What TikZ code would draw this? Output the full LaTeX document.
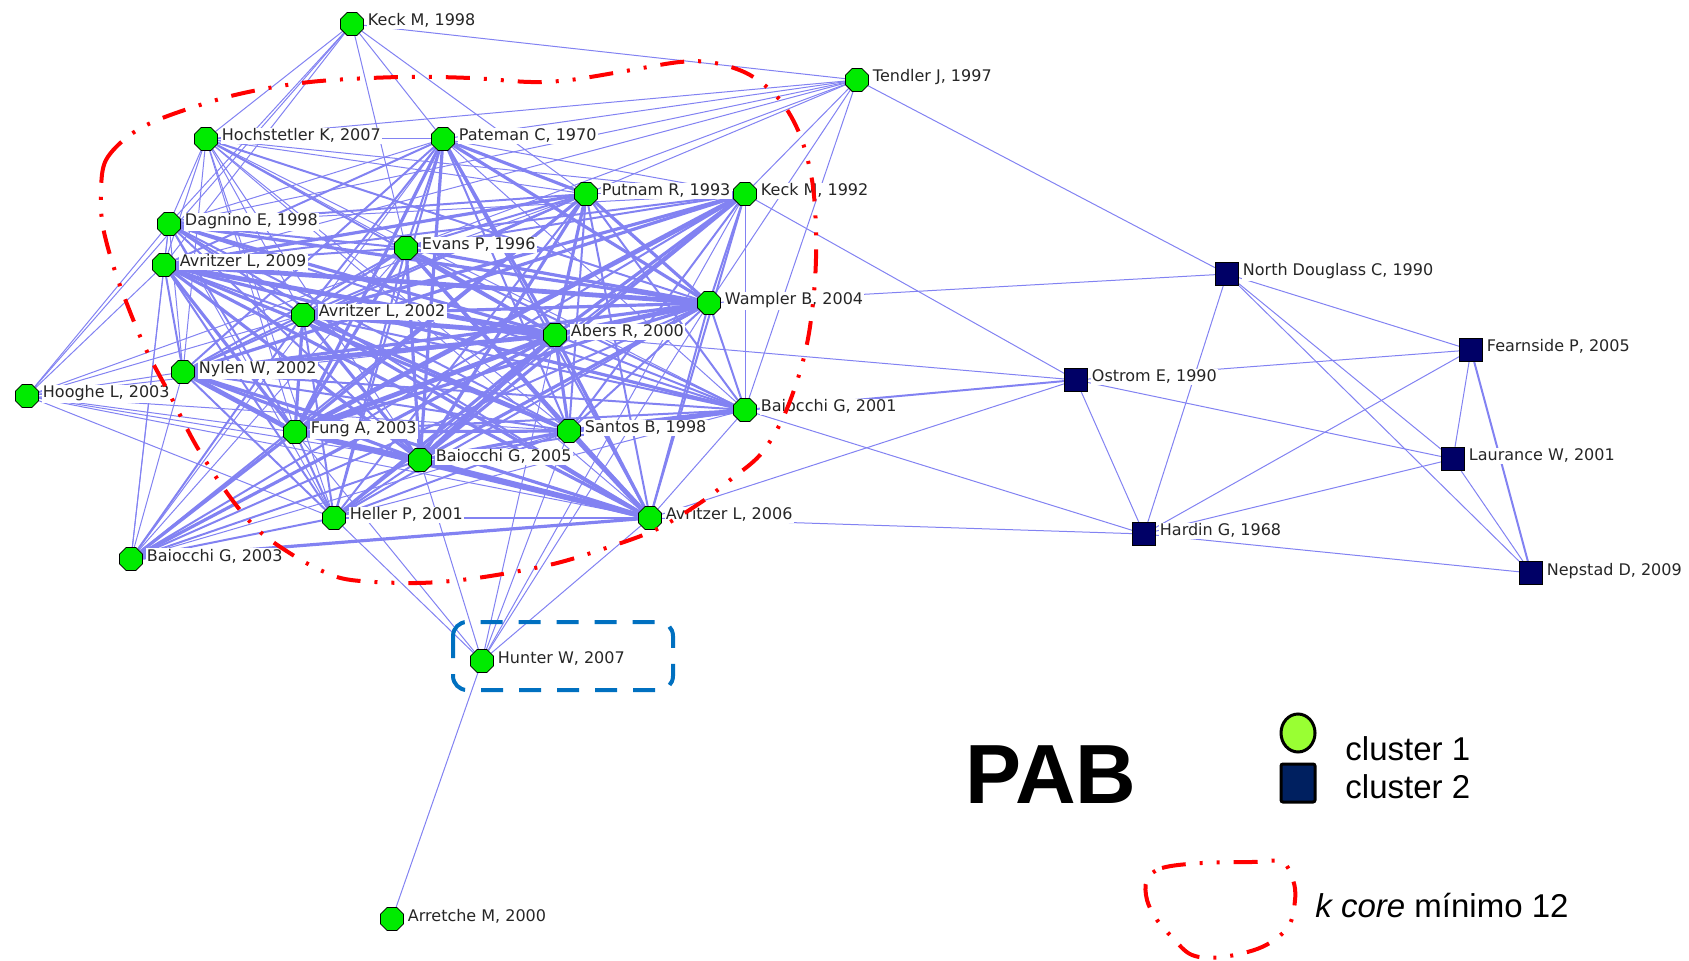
\documentclass[tikz,border=0pt]{standalone}
\usepackage{fontspec}
\usetikzlibrary{shapes.geometric, backgrounds}

\newfontfamily\lblfont{DejaVu Sans}
\newfontfamily\legfont{Liberation Sans}

\definecolor{linkcol}{RGB}{130,130,242}
\definecolor{nodegreen}{RGB}{0,235,0}
\definecolor{nodenavy}{RGB}{0,0,102}
\definecolor{legendgreen}{RGB}{153,255,51}
\definecolor{legendnavy}{RGB}{0,32,96}
\definecolor{boxblue}{RGB}{0,112,192}

\begin{document}
\begin{tikzpicture}[
    x=0.5pt, y=-0.5pt,
    clone/.style={draw=black, fill=nodegreen, regular polygon, regular polygon sides=8,
        inner sep=0pt, minimum size=12.5pt, line width=0.4pt},
    cltwo/.style={draw=black, fill=nodenavy, rectangle, inner sep=0pt,
        minimum size=11.5pt, line width=0.4pt},
    lbl/.style={font=\lblfont\fontsize{8}{9}\selectfont, text=black!85, fill=white,
        inner sep=0.6pt, anchor=base west, xshift=1.2pt, yshift=-1pt},
    legtxt/.style={font=\legfont\fontsize{16.5}{18}\selectfont, anchor=base west, inner sep=0pt},
    every edge/.style={draw=linkcol, line width=0.5pt},
    e2/.style={line width=1pt}, e3/.style={line width=1.6pt}, e4/.style={line width=2.4pt},
    kcore/.style={draw=red, line width=2pt,
        dash pattern=on 12pt off 7pt on 1.5pt off 7pt on 1.5pt off 7pt}
]
    \useasboundingbox (0,0) rectangle (1689,961);

    % cluster 1
    \node[clone, label={[lbl]right:{Keck M, 1998}}]        (keck98) at (352,24)  {};
    \node[clone, label={[lbl]right:{Tendler J, 1997}}]     (tend)   at (857,80)  {};
    \node[clone, label={[lbl]right:{Hochstetler K, 2007}}] (hoch)   at (206,139) {};
    \node[clone, label={[lbl]right:{Pateman C, 1970}}]     (pate)   at (443,139) {};
    \node[clone, label={[lbl]right:{Putnam R, 1993}}]      (putn)   at (586,194) {};
    \node[clone, label={[lbl]right:{Keck M, 1992}}]        (keck92) at (745,194) {};
    \node[clone, label={[lbl]right:{Dagnino E, 1998}}]     (dagn)   at (169,224) {};
    \node[clone, label={[lbl]right:{Evans P, 1996}}]       (evan)   at (406,248) {};
    \node[clone, label={[lbl]right:{Avritzer L, 2009}}]    (avr09)  at (164,265) {};
    \node[clone, label={[lbl]right:{Wampler B, 2004}}]     (wamp)   at (709,303) {};
    \node[clone, label={[lbl]right:{Avritzer L, 2002}}]    (avr02)  at (303,315) {};
    \node[clone, label={[lbl]right:{Abers R, 2000}}]       (aber)   at (555,335) {};
    \node[clone, label={[lbl]right:{Nylen W, 2002}}]       (nyle)   at (183,372) {};
    \node[clone, label={[lbl]right:{Hooghe L, 2003}}]      (hoog)   at (27,396)  {};
    \node[clone, label={[lbl]right:{Baiocchi G, 2001}}]    (baio01) at (745,410) {};
    \node[clone, label={[lbl]right:{Fung A, 2003}}]        (fung)   at (295,432) {};
    \node[clone, label={[lbl]right:{Santos B, 1998}}]      (sant)   at (569,431) {};
    \node[clone, label={[lbl]right:{Baiocchi G, 2005}}]    (baio05) at (420,460) {};
    \node[clone, label={[lbl]right:{Heller P, 2001}}]      (hell)   at (334,518) {};
    \node[clone, label={[lbl]right:{Avritzer L, 2006}}]    (avr06)  at (650,518) {};
    \node[clone, label={[lbl]right:{Baiocchi G, 2003}}]    (baio03) at (131,559) {};
    \node[clone, label={[lbl]right:{Hunter W, 2007}}]      (hunt)   at (482,661) {};
    \node[clone, label={[lbl]right:{Arretche M, 2000}}]    (arre)   at (392,919) {};

    % cluster 2
    \node[cltwo, label={[lbl]right:{North Douglass C, 1990}}] (doug) at (1227,274) {};
    \node[cltwo, label={[lbl]right:{Fearnside P, 2005}}]      (fear) at (1471,350) {};
    \node[cltwo, label={[lbl]right:{Ostrom E, 1990}}]         (ostr) at (1076,380) {};
    \node[cltwo, label={[lbl]right:{Laurance W, 2001}}]       (laur) at (1453,459) {};
    \node[cltwo, label={[lbl]right:{Hardin G, 1968}}]         (hard) at (1144,534) {};
    \node[cltwo, label={[lbl]right:{Nepstad D, 2009}}]        (neps) at (1531,573) {};

    \begin{scope}[on background layer]
    \path (keck98) edge (tend) edge (hoch) edge (dagn) edge (avr09) edge (hoog)
        edge (pate) edge (evan) edge (putn);
    \path (tend) edge (hoch) edge (pate) edge (dagn) edge (avr09) edge (evan)
        edge (putn) edge (keck92) edge (wamp) edge (baio01) edge (doug);
    \path (hoch) edge (pate) edge (putn) edge (dagn) edge (evan) edge (avr09)
        edge[e2] (wamp) edge (avr02) edge[e2] (aber) edge (nyle) edge (fung)
        edge (sant) edge (baio05) edge (hell) edge (keck92) edge (avr06) edge (baio01);
    \path (pate) edge[e3] (putn) edge (keck92) edge (dagn) edge[e2] (evan)
        edge[e2] (avr09) edge[e3] (wamp) edge[e2] (avr02) edge[e3] (aber)
        edge[e2] (nyle) edge[e3] (fung) edge[e2] (sant) edge[e3] (baio05)
        edge[e2] (hell) edge[e2] (avr06) edge (baio01) edge (baio03);
    \path (putn) edge (keck92) edge[e2] (dagn) edge[e2] (evan) edge[e3] (avr09)
        edge[e3] (wamp) edge[e2] (avr02) edge[e3] (aber) edge[e2] (nyle)
        edge[e3] (fung) edge[e2] (sant) edge[e3] (baio05) edge[e2] (hell)
        edge[e2] (avr06) edge[e2] (baio01) edge[e2] (baio03) edge (hoog);
    \path (keck92) edge (dagn) edge[e2] (evan) edge[e2] (avr09) edge[e2] (wamp)
        edge[e3] (avr02) edge[e3] (aber) edge[e3] (nyle) edge[e4] (fung)
        edge[e2] (sant) edge[e3] (baio05) edge[e2] (hell) edge[e2] (avr06)
        edge (baio01) edge[e2] (baio03) edge (ostr) edge (hunt);
    \path (dagn) edge[e2] (evan) edge (avr09) edge[e3] (wamp) edge[e2] (avr02)
        edge[e3] (aber) edge (nyle) edge[e2] (fung) edge[e2] (sant) edge[e2] (baio05)
        edge (hell) edge[e2] (avr06) edge[e2] (baio01) edge (hoog) edge (baio03);
    \path (evan) edge[e2] (avr09) edge[e3] (wamp) edge[e2] (avr02) edge[e3] (aber)
        edge[e2] (nyle) edge[e3] (fung) edge[e3] (sant) edge[e3] (baio05)
        edge[e2] (hell) edge[e3] (avr06) edge[e2] (baio01) edge (baio03);
    \path (avr09) edge[e4] (wamp) edge[e2] (avr02) edge[e4] (aber) edge[e2] (nyle)
        edge[e3] (fung) edge[e3] (sant) edge[e3] (baio05) edge[e2] (hell)
        edge[e3] (avr06) edge[e3] (baio01) edge (hoog) edge (baio03);
    \path (wamp) edge[e3] (avr02) edge[e4] (aber) edge[e3] (nyle) edge[e3] (fung)
        edge[e2] (sant) edge[e3] (baio05) edge[e2] (hell) edge[e2] (avr06)
        edge[e2] (baio01) edge[e2] (baio03) edge (doug) edge (hunt);
    \path (avr02) edge[e4] (aber) edge[e2] (nyle) edge[e3] (fung) edge[e3] (sant)
        edge[e3] (baio05) edge[e2] (hell) edge[e3] (avr06) edge[e2] (baio01)
        edge[e2] (baio03) edge (hoog);
    \path (aber) edge[e4] (nyle) edge[e4] (fung) edge[e3] (sant) edge[e4] (baio05)
        edge[e3] (hell) edge[e3] (avr06) edge[e2] (baio01) edge[e3] (baio03)
        edge (hoog) edge (ostr) edge (hunt);
    \path (nyle) edge[e4] (fung) edge[e2] (sant) edge[e3] (baio05) edge[e2] (hell)
        edge[e3] (avr06) edge[e2] (baio01) edge (baio03) edge (hoog);
    \path (baio01) edge[e2] (fung) edge[e4] (sant) edge[e2] (baio05) edge (hell)
        edge (avr06) edge[e2] (ostr) edge (hard);
    \path (fung) edge[e3] (sant) edge[e4] (baio05) edge[e2] (hell) edge[e4] (avr06)
        edge[e3] (baio03) edge (hoog) edge (hunt);
    \path (sant) edge[e3] (baio05) edge[e2] (hell) edge[e4] (avr06) edge (baio03)
        edge (hoog) edge (hunt);
    \path (baio05) edge[e2] (hell) edge[e4] (avr06) edge[e2] (baio03) edge (hoog)
        edge (hunt);
    \path (hell) edge[e2] (avr06) edge[e2] (baio03) edge (hoog) edge (hunt);
    \path (avr06) edge[e3] (baio03) edge (hoog) edge (hunt) edge (ostr) edge (hard);
    \path (hunt) edge (arre);
    \path (doug) edge (hard) edge (fear) edge (laur) edge (neps);
    \path (ostr) edge (fear) edge (laur) edge (hard);
    \path (fear) edge (laur) edge[e2] (neps) edge (hard);
    \path (laur) edge (hard) edge (neps);
    \path (hard) edge (neps);
    \end{scope}

    % k core line
    \draw[kcore] plot[smooth cycle, tension=0.55] coordinates {
        (101,190) (106,160) (130,135) (165,117) (235,95) (310,82) (400,77)
        (470,78) (530,82) (570,80) (620,72) (680,62) (715,63) (750,75)
        (780,100) (800,135) (812,180) (816,230) (815,280) (809,333) (799,375)
        (782,420) (760,455) (730,480) (700,503) (655,530) (600,550) (549,565)
        (477,578) (417,583) (351,580) (320,570) (288,552) (258,530) (230,497)
        (197,447) (170,395) (143,343) (117,277) (103,227)};

    % Hunter box
    \draw[boxblue, line width=2pt, dash pattern=on 11pt off 8pt, rounded corners=7pt]
        (453,622) rectangle (673,690);

    % legend
    \node[font=\legfont\bfseries\fontsize{42}{42}\selectfont, anchor=base, inner sep=0pt]
        (pab) at (1051,803) {PAB};
    \node[draw=black, line width=1.5pt, fill=legendgreen, ellipse, inner sep=0pt,
        minimum width=17pt, minimum height=19pt] (leg1) at (1298,733) {};
    \node[draw=black, line width=1.5pt, fill=legendnavy, rectangle, rounded corners=1pt,
        inner sep=0pt, minimum width=17pt, minimum height=19pt] (leg2) at (1298,783) {};
    \node[legtxt] (txt1) at (1345,760) {cluster 1};
    \node[legtxt] (txt2) at (1345,798) {cluster 2};
    \draw[kcore] plot[smooth cycle, tension=0.6] coordinates {
        (1147,880) (1162,868) (1202,863) (1252,862) (1282,862) (1293,880)
        (1295,900) (1288,927) (1262,947) (1222,957) (1192,955) (1172,937)
        (1157,920) (1147,900)};
    \node[legtxt] (ktxt) at (1315,917) {\itshape k core\upshape{} mínimo 12};
\end{tikzpicture}
\end{document}
